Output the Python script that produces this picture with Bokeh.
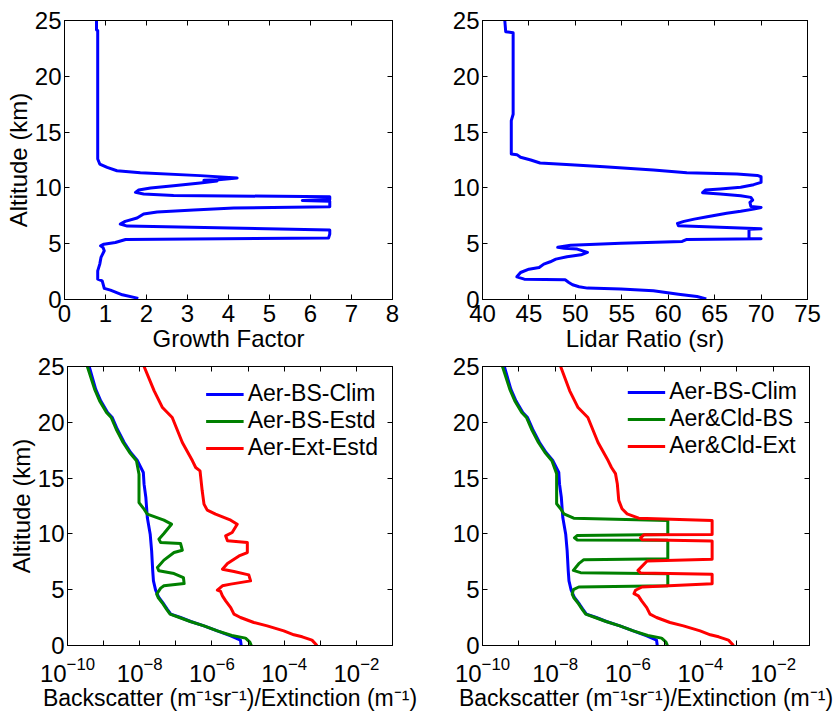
import numpy as np
from bokeh.plotting import figure
from bokeh.layouts import column, row
from bokeh.models import (FixedTicker, LinearAxis, LogAxis, CustomJSTickFormatter,
                          Legend, LegendItem, Range1d)
from bokeh.embed import file_html
from bokeh.resources import INLINE

# ---------------- data ----------------
# Panel 1: growth factor profile
gf_alt = [0.1, 0.42, 0.84, 1.0, 1.67, 1.82, 2.57, 3.17, 3.77, 4.37, 4.66, 4.81, 4.96, 5.11, 5.38,
          5.50, 5.86, 6.22, 6.58, 6.76, 7.0, 7.3, 7.66, 7.84, 8.01, 8.19, 8.31, 8.8, 8.87, 8.95,
          9.2, 9.33, 9.45, 9.6, 9.81, 9.99, 10.2, 10.44, 10.62, 10.68, 10.72, 10.89, 11.1, 11.36,
          11.54, 11.84, 12.14, 12.59, 24.1, 24.16, 25.0]
gf_val = [1.8, 1.41, 1.12, 0.97, 0.92, 0.81, 0.81, 0.86, 0.89, 0.97, 0.94, 0.88, 0.96, 1.24, 1.49,
          6.44, 6.47, 6.47, 1.53, 1.36, 1.48, 1.77, 1.93, 2.26, 3.15, 4.13, 6.47, 6.47, 5.8, 6.47,
          6.47, 2.66, 1.93, 1.73, 1.81, 2.1, 2.66, 3.31, 3.72, 3.4, 3.75, 4.21, 3.31, 1.85,
          1.28, 1.04, 0.86, 0.81, 0.81, 0.78, 0.78]

# Panel 2: lidar ratio profile
lr_alt = [0.05, 0.27, 0.48, 0.78, 0.93, 1.02, 1.14, 1.32, 1.53, 1.76, 1.82, 2.03, 2.42, 2.72, 2.87,
          3.17, 3.38, 3.62, 3.83, 4.0, 4.22, 4.52, 4.6, 4.68, 4.87, 5.05, 5.2, 5.38, 5.44, 5.47,
          6.3, 6.33, 6.61, 6.82, 7.0, 7.2, 7.42, 7.72, 7.9, 8.1, 8.25, 8.34, 8.7, 8.91, 9.15,
          9.3, 9.45, 9.57, 9.81, 9.9, 10.05, 10.29, 10.5, 11.0, 11.12, 11.24, 11.36, 11.6, 11.9,
          12.08, 12.23, 12.5, 12.74, 12.98, 13.04, 16.03, 16.6, 17.5, 23.9, 24.0, 25.0]
lr_val = [64.1, 63.1, 61.1, 58.4, 54.9, 51.3, 50.4, 49.7, 49.3, 48.9, 44.5, 43.7, 44.1, 45.0, 46.1,
          46.6, 47.3, 47.9, 49.1, 50.6, 51.3, 50.2, 48.8, 48.1, 49.5, 54.9, 61.5, 62.0, 70.0, 68.7,
          68.7, 70.0, 61.1, 61.0, 61.7, 62.8, 64.2, 66.3, 67.8, 69.2, 70.0, 68.9, 68.8, 69.1, 68.9,
          67.8, 65.6, 63.7, 64.0, 65.6, 67.8, 69.2, 70.0, 70.0, 69.6, 67.4, 62.0, 58.4, 53.1,
          49.5, 46.2, 45.2, 44.1, 43.7, 43.1, 43.1, 43.3, 43.3, 43.3, 42.5, 42.4]

# Panel 3/4: aerosol backscatter climatology (log10 of m^-1 sr^-1)
clim_alt = [0.0, 0.48, 0.87, 1.31, 1.76, 2.15, 2.51, 2.81, 3.26, 3.7, 4.3, 4.96, 5.79, 6.69, 8.48,
            9.97, 11.47, 13.26, 14.46, 15.5, 16.55, 17.29, 18.19, 19.38, 20.43, 20.88, 21.92,
            22.97, 25.0]
clim_log = [-5.19, -5.21, -5.48, -5.85, -6.22, -6.59, -6.87, -7.14, -7.24, -7.33, -7.47, -7.56,
            -7.62, -7.64, -7.67, -7.71, -7.79, -7.83, -7.88, -7.9, -8.06, -8.25, -8.43, -8.62,
            -8.76, -8.89, -9.08, -9.22, -9.4]

# Panel 3: estimated aerosol backscatter
bs_estd_alt = [0.0, 0.3, 0.66, 0.9, 1.31, 1.76, 2.15, 2.51, 2.81, 3.26, 3.7, 4.3, 4.6, 5.14, 5.35,
               5.55, 6.09, 6.45, 6.69, 6.99, 7.65, 8.33, 8.54, 9.14, 9.23, 9.53, 10.04, 10.87,
               11.23, 11.77, 12.22, 12.81, 15.35, 16.55, 17.29, 18.19, 19.38, 20.43, 20.88,
               21.92, 22.97, 25.0]
bs_estd_log = [-4.91, -4.95, -5.07, -5.45, -5.85, -6.22, -6.6, -6.9, -7.16, -7.26, -7.35, -7.49,
               -7.53, -7.42, -7.33, -6.77, -6.79, -7.05, -7.47, -7.51, -7.33, -7.05, -6.82, -6.87,
               -7.42, -7.47, -7.33, -7.12, -7.33, -7.79, -7.88, -8.02, -8.02, -8.09, -8.28, -8.46,
               -8.65, -8.79, -8.92, -9.11, -9.25, -9.45]

# Panel 3: estimated aerosol extinction (log10 of m^-1)
ext_estd_alt = [0.0, 0.48, 0.78, 0.96, 1.31, 1.76, 2.06, 2.51, 2.81, 3.4, 4.0, 4.45, 4.84, 4.96,
                5.35, 5.5, 5.79, 6.33, 6.63, 6.84, 7.35, 8.03, 8.33, 9.23, 9.38, 9.82, 10.13,
                10.87, 11.23, 11.77, 12.13, 12.67, 13.86, 15.65, 15.95, 16.55, 18.19, 20.43,
                21.32, 22.82, 25.0]
ext_estd_log = [-3.09, -3.23, -3.5, -3.73, -4.01, -4.47, -4.84, -5.21, -5.39, -5.48, -5.62, -5.71,
                -5.76, -5.85, -5.71, -5.48, -4.93, -4.98, -5.39, -5.71, -5.57, -5.25, -5.02,
                -5.02, -5.57, -5.62, -5.44, -5.3, -5.48, -5.9, -6.13, -6.22, -6.27, -6.33, -6.45,
                -6.54, -6.82, -7.1, -7.37, -7.6, -7.88]

# Panel 4: aerosol & cloud backscatter
cld_bs_alt = [0.0, 0.3, 0.66, 0.9, 1.31, 1.76, 2.15, 2.51, 2.81, 3.26, 3.7, 4.3, 4.6, 5.0, 5.24,
              5.36, 6.44, 6.53, 6.73, 7.33, 7.69, 7.78, 9.42, 9.45, 9.65, 9.86, 9.95, 11.2, 11.41,
              11.8, 12.25, 12.7, 15.4, 16.55, 17.29, 18.19, 19.38, 20.43, 20.88, 21.92, 22.97,
              25.0]
cld_bs_log = [-4.91, -4.95, -5.07, -5.45, -5.85, -6.22, -6.6, -6.9, -7.16, -7.26, -7.35, -7.49,
              -7.53, -7.5, -7.35, -4.9, -4.9, -7.3, -7.5, -7.35, -7.21, -4.9, -4.9, -7.39, -7.47,
              -7.39, -4.9, -4.9, -7.49, -7.76, -7.85, -7.96, -7.96, -8.09, -8.28, -8.46, -8.65,
              -8.79, -8.92, -9.11, -9.25, -9.45]

# Panel 4: aerosol & cloud extinction
cld_ext_alt = [0.0, 0.48, 0.78, 0.96, 1.31, 1.76, 2.06, 2.51, 2.81, 3.4, 4.0, 4.45, 4.65, 4.95,
               5.24, 5.54, 6.38, 6.5, 6.73, 7.57, 7.72, 9.36, 9.48, 9.65, 9.92, 9.95, 11.2, 11.41,
               11.8, 12.25, 13.0, 14.5, 15.4, 15.95, 16.55, 18.19, 20.43, 21.32, 22.82, 25.0]
cld_ext_log = [-3.09, -3.23, -3.5, -3.73, -4.01, -4.47, -4.84, -5.21, -5.39, -5.48, -5.62, -5.71,
               -5.83, -5.79, -5.61, -3.68, -3.68, -5.65, -5.72, -5.47, -3.68, -3.68, -5.61, -5.65,
               -5.56, -3.68, -3.68, -5.7, -6.02, -6.16, -6.25, -6.29, -6.34, -6.45, -6.54, -6.82,
               -7.1, -7.37, -7.6, -7.85]

alt_ticks = [0, 5, 10, 15, 20, 25]
gf_ticks = [0, 1, 2, 3, 4, 5, 6, 7, 8]
lr_ticks = [40, 45, 50, 55, 60, 65, 70, 75]
log_major = [1e-10, 1e-8, 1e-6, 1e-4, 1e-2]
log_minor = [1e-9, 1e-7, 1e-5, 1e-3]

legend3 = ["Aer-BS-Clim", "Aer-BS-Estd", "Aer-Ext-Estd"]
legend4 = ["Aer-BS-Clim", "Aer&Cld-BS", "Aer&Cld-Ext"]
xlabel_bs = "Backscatter (m\u207b\u00b9sr\u207b\u00b9)/Extinction (m\u207b\u00b9)"

BLUE = "#0000FF"
GREEN = "#008000"
RED = "#FF0000"
FONT = "Liberation Sans"
FS = "24px"
LFS = "23px"
LW = 3

empty_fmt = "return ''"


def style_axis(ax, ticks, minor=None):
    ax.ticker = FixedTicker(ticks=ticks, minor_ticks=minor or [])
    ax.major_tick_in = 5
    ax.major_tick_out = 0
    ax.minor_tick_in = 5
    ax.minor_tick_out = 0
    if not minor:
        ax.minor_tick_line_color = None
    ax.axis_line_color = "black"
    ax.major_tick_line_color = "black"
    ax.major_label_text_font = FONT
    ax.major_label_text_font_size = FS
    ax.major_label_text_color = "black"
    ax.axis_label_text_font = FONT
    ax.axis_label_text_font_size = FS
    ax.axis_label_text_font_style = "normal"
    ax.axis_label_text_color = "black"


def make_fig(xr, xticks, xminor, log, fw, fh, bl, br, bt, bb, xlabel, ylabel, xstand, xlfs):
    kw = dict(x_axis_type="log") if log else {}
    p = figure(frame_width=fw, frame_height=fh, x_range=xr, y_range=Range1d(0, 25),
               min_border_left=bl, min_border_right=br, min_border_top=bt, min_border_bottom=bb,
               output_backend="svg", toolbar_location=None, **kw)
    p.grid.visible = False
    p.outline_line_color = "black"
    p.outline_line_width = 1
    p.background_fill_color = "white"
    p.border_fill_color = "white"
    style_axis(p.xaxis[0], xticks, xminor)
    style_axis(p.yaxis[0], alt_ticks)
    p.xaxis[0].axis_label = xlabel
    p.xaxis[0].axis_label_text_font_size = xlfs
    p.xaxis[0].major_label_standoff = xstand
    p.xaxis[0].axis_label_standoff = 0
    p.yaxis[0].major_label_standoff = 3
    p.yaxis[0].axis_label_standoff = 0
    if ylabel:
        p.yaxis[0].axis_label = ylabel
    # mirrored tick marks on top and right
    top = (LogAxis if log else LinearAxis)(formatter=CustomJSTickFormatter(code=empty_fmt))
    style_axis(top, xticks, xminor)
    top.major_label_standoff = 0
    top.major_label_text_font_size = "1px"
    p.add_layout(top, "above")
    rgt = LinearAxis(formatter=CustomJSTickFormatter(code=empty_fmt))
    style_axis(rgt, alt_ticks)
    rgt.major_label_standoff = 0
    rgt.major_label_text_font_size = "1px"
    p.add_layout(rgt, "right")
    return p


p1 = make_fig(Range1d(0, 8), gf_ticks, None, False, 328, 279, 64, 27, 20, 53,
              "Growth Factor", "Altitude (km)", 5, FS)
p1.line(gf_val, gf_alt, line_color=BLUE, line_width=LW, line_join="round")

p2 = make_fig(Range1d(40, 75), lr_ticks, None, False, 325, 279, 63, 31, 20, 53,
              "Lidar Ratio (sr)", None, 5, FS)
p2.line(lr_val, lr_alt, line_color=BLUE, line_width=LW, line_join="round")


def add_legend(p, rends, labels, margin):
    leg = Legend(items=[LegendItem(label=l, renderers=[r]) for l, r in zip(labels, rends)],
                 location="top_right", border_line_alpha=0, background_fill_alpha=0,
                 label_text_font=FONT, label_text_font_size=LFS, label_text_color="black",
                 glyph_width=38, glyph_height=20, label_standoff=4, spacing=0,
                 padding=0, margin=margin)
    p.add_layout(leg)


p3 = make_fig(Range1d(1e-10, 1e-1), log_major, log_minor, True, 325, 279, 67, 27, 12, 68,
              xlabel_bs, "Altitude (km)", 11, "23px")
c = 10.0 ** np.array(clim_log)
r1 = p3.line(c, clim_alt, line_color=BLUE, line_width=LW, line_join="round")
r2 = p3.line(10.0 ** np.array(bs_estd_log), bs_estd_alt, line_color=GREEN, line_width=LW,
             line_join="round")
r3 = p3.line(10.0 ** np.array(ext_estd_log), ext_estd_alt, line_color=RED, line_width=LW,
             line_join="round")
add_legend(p3, [r1, r2, r3], legend3, 14)

p4 = make_fig(Range1d(1e-10, 1e-1), log_major, log_minor, True, 327, 279, 63, 29, 12, 68,
              xlabel_bs, None, 11, "23px")
q1 = p4.line(c, clim_alt, line_color=BLUE, line_width=LW, line_join="round")
q2 = p4.line(10.0 ** np.array(cld_bs_log), cld_bs_alt, line_color=GREEN, line_width=LW,
             line_join="round")
q3 = p4.line(10.0 ** np.array(cld_ext_log), cld_ext_alt, line_color=RED, line_width=LW,
             line_join="round")
add_legend(p4, [q1, q2, q3], legend4, 12)

layout = column(row(p1, p2), row(p3, p4))
open("out.html", "w").write(file_html(layout, INLINE))
